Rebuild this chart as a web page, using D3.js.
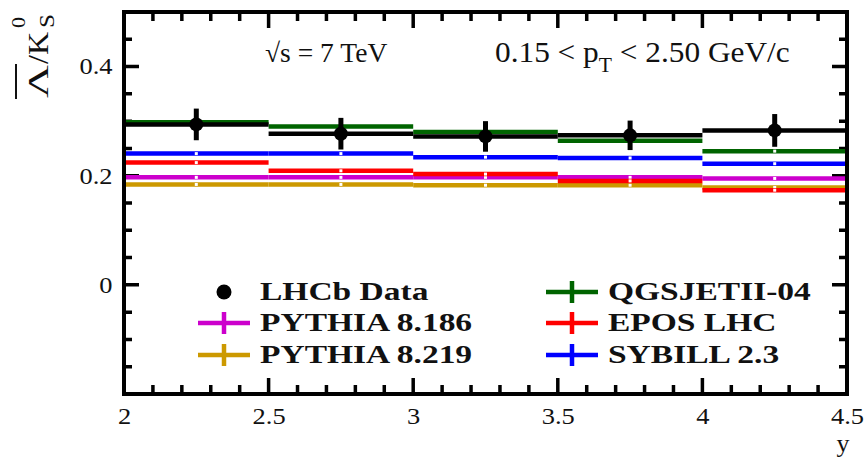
<!DOCTYPE html>
<html>
<head>
<meta charset="utf-8">
<script src="https://cdn.jsdelivr.net/npm/d3@7"></script>
<style>
  body { margin: 0; background: #fff; }
  text { font-family: "Liberation Serif", "Times New Roman", serif; fill: #111; }
</style>
</head>
<body>
<div id="chart"></div>
<script>
// bins in rapidity
var binEdges = [2, 2.5, 3, 3.5, 4, 4.5];

// LHCb measurement
var lhcbData = [0.294, 0.277, 0.272, 0.274, 0.283];
var lhcbErr  = [0.029, 0.029, 0.028, 0.027, 0.030];

// generator predictions
var pythia8186 = [0.197, 0.197, 0.197, 0.197, 0.195];
var pythia8219 = [0.184, 0.184, 0.1826, 0.1826, 0.1785];
var qgsjet     = [0.298, 0.290, 0.280, 0.264, 0.245];
var epos       = [0.224, 0.209, 0.203, 0.1905, 0.1735];
var sybill     = [0.2405, 0.2405, 0.234, 0.2325, 0.222];

// axis ticks
var xTicks = [2, 2.5, 3, 3.5, 4, 4.5];
var yTicks = [0, 0.2, 0.4];

var models = [
  {name: "PYTHIA 8.219", values: pythia8219, color: "#cc9900"},
  {name: "PYTHIA 8.186", values: pythia8186, color: "#cc00cc"},
  {name: "EPOS LHC",     values: epos,       color: "#ff0000"},
  {name: "SYBILL 2.3",   values: sybill,     color: "#0000ff"},
  {name: "QGSJETII-04",  values: qgsjet,     color: "#006400"}
];

var W = 865, H = 458;
var svg = d3.select("#chart").append("svg")
    .attr("width", W)
    .attr("height", H);

var x = d3.scaleLinear().domain([2, 4.5]).range([124, 847]);
var y = d3.scaleLinear().domain([-0.2, 0.5]).range([394, 12]);

var tickSx = 1.15;

// tick labels from d3 axes
svg.append("g")
  .attr("transform", "translate(0," + y.range()[0] + ")")
  .call(d3.axisBottom(x).tickValues(xTicks).tickSize(0).tickPadding(14).tickFormat(d3.format("")));
svg.append("g")
  .attr("transform", "translate(" + x.range()[0] + ",0)")
  .call(d3.axisLeft(y).tickValues(yTicks).tickSize(0).tickPadding(10).tickFormat(d3.format("")));
svg.selectAll(".domain").remove();
svg.selectAll(".tick text")
  .attr("font-family", "Liberation Serif, serif")
  .attr("font-size", 23)
  .attr("fill", "#111")
  .attr("transform", "scale(" + tickSx + ",1)");

// ROOT style ticks pointing inside, on all four sides (one path per side)
var xMinor = d3.range(2, 4.501, 0.1);
var yMinor = d3.range(-0.2, 0.501, 0.05);
function isMajor(list, v) {
  return list.some(function(t) { return Math.abs(t - v) < 1e-6; });
}
function xTickPath(y0, dir) {
  var p = d3.path();
  xMinor.forEach(function(d) {
    var len = isMajor(xTicks, d) ? 16 : 9;
    p.moveTo(x(d), y0);
    p.lineTo(x(d), y0 + dir * len);
  });
  return p.toString();
}
function yTickPath(x0, dir) {
  var p = d3.path();
  yMinor.forEach(function(d) {
    var len = isMajor(yTicks, d) ? 15 : 8;
    p.moveTo(x0, y(d));
    p.lineTo(x0 + dir * len, y(d));
  });
  return p.toString();
}
var tickPaths = [
  xTickPath(y.range()[0], -1),
  xTickPath(y.range()[1], 1),
  yTickPath(x.range()[0], 1),
  yTickPath(x.range()[1], -1)
];
svg.append("g").selectAll("path")
  .data(tickPaths)
  .enter()
  .append("path")
    .attr("d", function(d) { return d; })
    .style("fill", "none")
    .style("stroke", "#000")
    .style("stroke-width", "3.5px");

// model predictions as horizontal bin segments
models.forEach(function(m) {
  var g = svg.append("g");
  g.selectAll("line")
    .data(m.values)
    .enter()
    .append("line")
      .attr("x1", function(d, i) { return x(binEdges[i]); })
      .attr("x2", function(d, i) { return x(binEdges[i + 1]); })
      .attr("y1", function(d) { return y(d); })
      .attr("y2", function(d) { return y(d); })
      .attr("stroke", m.color)
      .attr("stroke-width", 4.5);
  g.selectAll("rect")
    .data(m.values)
    .enter()
    .append("rect")
      .attr("x", function(d, i) { return x((binEdges[i] + binEdges[i + 1]) / 2) - 1.5; })
      .attr("y", function(d) { return y(d) - 1.5; })
      .attr("width", 3)
      .attr("height", 3)
      .attr("fill", "#fff");
});

// LHCb data
var dg = svg.append("g");
dg.selectAll(".hline")
  .data(lhcbData)
  .enter()
  .append("line")
    .attr("x1", function(d, i) { return x(binEdges[i]); })
    .attr("x2", function(d, i) { return x(binEdges[i + 1]); })
    .attr("y1", function(d) { return y(d); })
    .attr("y2", function(d) { return y(d); })
    .attr("stroke", "#000")
    .attr("stroke-width", 4.5);
dg.selectAll(".err")
  .data(lhcbData)
  .enter()
  .append("line")
    .attr("x1", function(d, i) { return x((binEdges[i] + binEdges[i + 1]) / 2); })
    .attr("x2", function(d, i) { return x((binEdges[i] + binEdges[i + 1]) / 2); })
    .attr("y1", function(d, i) { return y(d - lhcbErr[i]); })
    .attr("y2", function(d, i) { return y(d + lhcbErr[i]); })
    .attr("stroke", "#000")
    .attr("stroke-width", 5);
dg.selectAll("circle")
  .data(lhcbData)
  .enter()
  .append("circle")
    .attr("cx", function(d, i) { return x((binEdges[i] + binEdges[i + 1]) / 2); })
    .attr("cy", function(d) { return y(d); })
    .attr("r", 7)
    .attr("fill", "#000");

// frame
svg.append("rect")
  .attr("x", x.range()[0])
  .attr("y", y.range()[1])
  .attr("width", x.range()[1] - x.range()[0])
  .attr("height", y.range()[0] - y.range()[1])
  .attr("fill", "none")
  .attr("stroke", "#000")
  .attr("stroke-width", 4);

// labels on the plot
svg.append("text")
  .attr("transform", "translate(265,62) scale(1.02,1)")
  .attr("font-size", 27)
  .text("√s = 7 TeV");

var pt = svg.append("text")
  .attr("transform", "translate(495,62) scale(1.08,1)")
  .attr("font-size", 29);
pt.append("tspan").text("0.15 < p");
pt.append("tspan").attr("font-size", 20).attr("dy", 10).text("T");
pt.append("tspan").attr("dy", -10).text(" < 2.50 GeV/c");

// x axis title
svg.append("text")
  .attr("x", 843)
  .attr("y", 452)
  .attr("text-anchor", "middle")
  .attr("font-size", 26)
  .text("y");

// y axis title: anti-Lambda / K0S (reads bottom to top)
var yt = svg.append("g")
  .attr("transform", "translate(48,100) rotate(-90)");
yt.append("text")
  .attr("x", 2)
  .attr("font-size", 30)
  .attr("textLength", 33)
  .attr("lengthAdjust", "spacingAndGlyphs")
  .text("Λ");
yt.append("line")
  .attr("x1", 1)
  .attr("x2", 36)
  .attr("y1", -32)
  .attr("y2", -32)
  .attr("stroke", "#111")
  .attr("stroke-width", 2);
yt.append("text")
  .attr("x", 36)
  .attr("font-size", 30)
  .attr("textLength", 32)
  .attr("lengthAdjust", "spacingAndGlyphs")
  .text("/K");
yt.append("text")
  .attr("x", 72)
  .attr("y", -23)
  .attr("font-size", 18)
  .attr("textLength", 11)
  .attr("lengthAdjust", "spacingAndGlyphs")
  .text("0");
yt.append("text")
  .attr("x", 72)
  .attr("y", 6)
  .attr("font-size", 21)
  .attr("textLength", 14)
  .attr("lengthAdjust", "spacingAndGlyphs")
  .text("S");

// legend
var legSx = 1.34;
var legendLeft = [
  {name: "LHCb Data", data: true},
  {name: "PYTHIA 8.186", color: "#cc00cc"},
  {name: "PYTHIA 8.219", color: "#cc9900"}
];
var legendRight = [
  {name: "QGSJETII-04", color: "#006400"},
  {name: "EPOS LHC", color: "#ff0000"},
  {name: "SYBILL 2.3", color: "#0000ff"}
];

function drawLegend(entries, cx, tx) {
  var rowY = [292, 323, 355];
  entries.forEach(function(e, i) {
    var g = svg.append("g").attr("transform", "translate(0," + rowY[i] + ")");
    if (e.data) {
      g.append("circle").attr("cx", cx).attr("cy", 0).attr("r", 7.5).attr("fill", "#000");
    } else {
      g.append("line").attr("x1", cx - 26).attr("x2", cx + 26).attr("y1", 0).attr("y2", 0)
        .attr("stroke", e.color).attr("stroke-width", 4.5);
      g.append("line").attr("x1", cx).attr("x2", cx).attr("y1", -11).attr("y2", 11)
        .attr("stroke", e.color).attr("stroke-width", 4.5);
    }
    g.append("text")
      .attr("transform", "translate(" + tx + ",8) scale(" + legSx + ",1)")
      .attr("font-size", 25)
      .attr("font-weight", "bold")
      .attr("fill", "#000")
      .text(e.name);
  });
}
drawLegend(legendLeft, 224, 260);
drawLegend(legendRight, 572, 608);
</script>
</body>
</html>
